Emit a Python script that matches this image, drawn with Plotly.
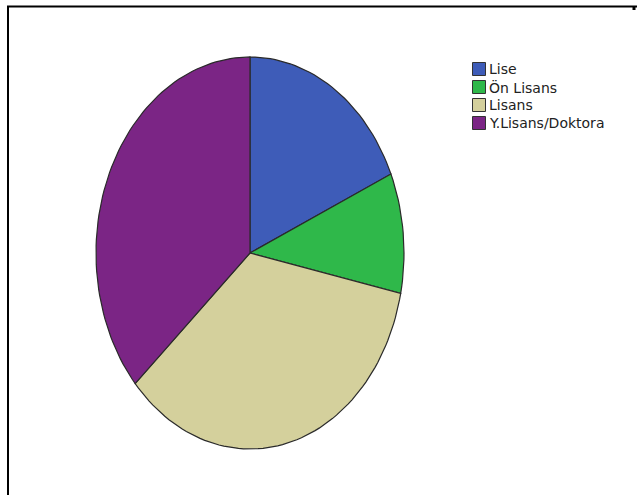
import numpy as np
import plotly.graph_objects as go

categories = ["Lise", "Ön Lisans", "Lisans", "Y.Lisans/Doktora"]
percentages = [18.4, 9.9, 35.1, 36.6]
colors = ["#3e5cb8", "#2fb84a", "#d4d09c", "#7b2585"]

W, H = 637, 495
cx, cy, rx, ry = 250, 253, 154, 196

fig = go.Figure()

total = sum(percentages)
start = 0.0
for cat, val, col in zip(categories, percentages, colors):
    a0 = start / total * 2 * np.pi
    a1 = (start + val) / total * 2 * np.pi
    t = np.linspace(a0, a1, max(8, int(200 * val / total)))
    xs = np.concatenate([[cx], cx + rx * np.sin(t), [cx]])
    ys = np.concatenate([[cy], cy - ry * np.cos(t), [cy]])
    fig.add_trace(go.Scatter(x=xs, y=ys, mode="lines", fill="toself",
                             fillcolor=col, line=dict(color="#2a2a2a", width=1.2),
                             name=cat, showlegend=False, hoverinfo="name"))
    start += val

# legend
lx, ly0, dy = 479, 69, 18
for i, (cat, col) in enumerate(zip(categories, colors)):
    y = ly0 + i * dy
    fig.add_trace(go.Scatter(x=[lx], y=[y], mode="markers",
                             marker=dict(symbol="square", size=13, color=col,
                                         line=dict(color="#333", width=1)),
                             showlegend=False, hoverinfo="skip"))
    fig.add_annotation(x=lx + 8, y=y, text=cat, showarrow=False, xanchor="left",
                       yanchor="middle", font=dict(family="DejaVu Sans", size=14, color="#222"))

# border (top and left)
fig.add_shape(type="line", x0=7, x1=637, y0=6.5, y1=6.5, line=dict(color="black", width=2))
fig.add_shape(type="line", x0=8, x1=8, y0=6, y1=495, line=dict(color="black", width=2))
fig.add_shape(type="line", x0=634, x1=634, y0=6, y1=10, line=dict(color="black", width=3))

fig.update_layout(
    width=W, height=H, margin=dict(l=0, r=0, t=0, b=0),
    paper_bgcolor="white", plot_bgcolor="white",
    xaxis=dict(range=[0, W], visible=False, fixedrange=True),
    yaxis=dict(range=[H, 0], visible=False, fixedrange=True),
)
fig.write_html("out.html")
